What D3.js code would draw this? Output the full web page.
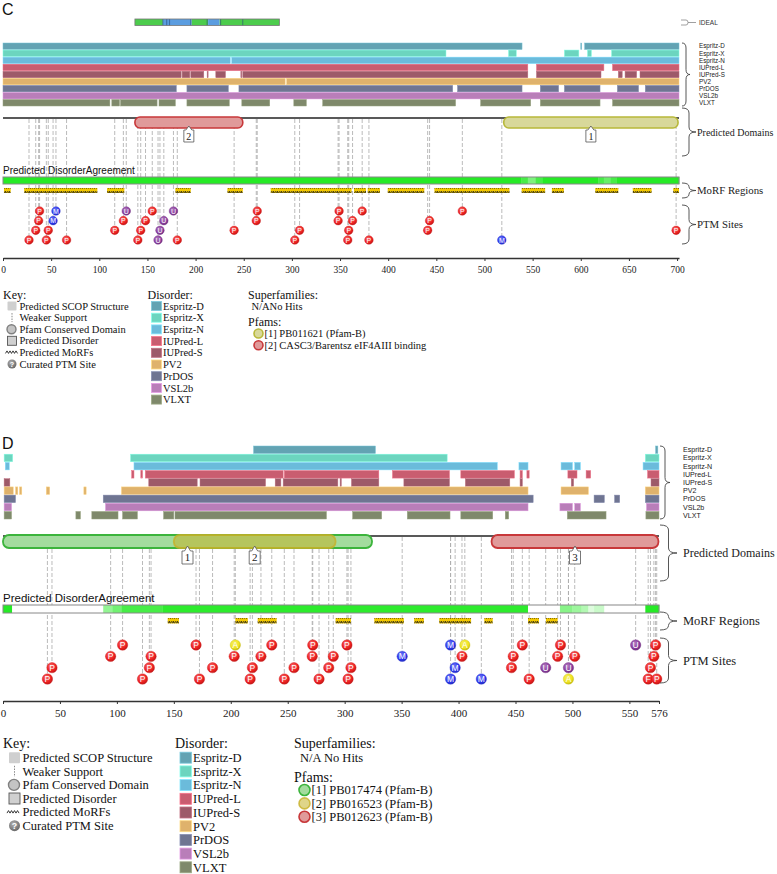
<!DOCTYPE html>
<html><head><meta charset="utf-8">
<script src="https://cdn.jsdelivr.net/npm/d3@7"></script>
<style>body{margin:0;background:#fff}svg{display:block}</style>
</head><body><svg id="chart" width="777" height="874"></svg>
<script>
// ---------------- DATA ----------------
const methods = ["Espritz-D","Espritz-X","Espritz-N","IUPred-L","IUPred-S","PV2","PrDOS","VSL2b","VLXT"];
const methodColors = ["#63a3b3","#6cd5bf","#6bbbdb","#c95d70","#9d5a69","#dfb26c","#6f7592","#b97eb9","#7f896b"];

// Panel C (length 702)
const cLength = 702;
const cTicks = [0,50,100,150,200,250,300,350,400,450,500,550,600,650,700];
const cDisorder = [
  [[0,539],[600,601],[604,702]],
  [[0,460],[525,533],[583,598],[607,611],[632,702]],
  [[0,236],[237.5,702]],
  [[0,545],[554,624],[633,702]],
  [[0,185],[186,194],[195,208.5],[212,213],[221,231],[247,248],[249,545],[554,621],[639,643],[646,658],[661.5,702]],
  [[0,293],[294.5,702]],
  [[0,180],[191,234],[245,467],[472,539],[558,577],[583,620],[638,660],[667,702]],
  [[0,702]],
  [[0,111],[113,121],[122,160],[162,179],[191,235],[248,277],[302,315],[332,470],[496,548],[558,620],[633,702]]
];
const cIdeal = [[137,166,"ord"],[166,196,"bind"],[196,213,"ord"],[213,225,"bind"],[225,287,"ord"]];
const cIdealMarks = [166,170,173,195,212,226,249];
const cDomains = [[137,249,2,"red"],[520,701,1,"olive"]];
const cAgreement = [[0,538,1],[538,545,0.85],[545,553,0.6],[553,560,0.85],[560,618,1],[618,624,0.85],[624,631,0.7],[631,637,0.85],[637,702,1]];
const cMorfs = [[1,8],[22,98],[108,126],[179,195],[233,249],[278,362],[364.5,377],[378.7,391.5],[399.5,437.5],[448,526],[538.6,563],[570,582.5],[615,639],[654,673.6],[696,702]];
const cPtms = [
  [38,0,"P"],[55,0,"M"],[128,0,"U"],[155,0,"P"],[177,0,"U"],[264,0,"P"],[349,0,"P"],[373,0,"P"],[477,0,"P"],
  [37,1,"P"],[52,1,"M"],[125,1,"P"],[148,1,"P"],[167,1,"U"],[263,1,"P"],[348,1,"P"],[363,1,"P"],[443,1,"P"],
  [34,2,"P"],[47,2,"P"],[116,2,"P"],[143,2,"P"],[163,2,"U"],[240,2,"P"],[308,2,"P"],[359,2,"P"],[441,2,"P"],[699,2,"P"],
  [27,3,"P"],[45,3,"P"],[66,3,"P"],[140,3,"P"],[161,3,"U"],[181,3,"P"],[303,3,"P"],[358,3,"P"],[380,3,"P"],[518,3,"M"]
];
const cPfams = [["olive","[1] PB011621 (Pfam-B)"],["red","[2] CASC3/Barentsz eIF4AIII binding"]];
const cSuperfam = "N/ANo Hits";

// Panel D (length 576)
const dLength = 576;
const dTicks = [0,50,100,150,200,250,300,350,400,450,500,550,576];
const dDisorder = [
  [[220,327],[573,575]],
  [[1,8.5],[112,390],[564,576]],
  [[2,5.5],[115,434],[453,461],[490,500],[502,507],[562,576]],
  [[113,115],[121,122.5],[125,246],[247,330],[342,392],[402,449],[454,456],[460,462],[496,504],[512,516],[566,576]],
  [[1,6],[128,170.5],[173,230.5],[239,244],[246,294],[296,297],[306,330],[352,392],[406,445],[454,456],[499,501],[569,576]],
  [[1,9],[11,13],[14.5,16.5],[38,41],[71,73],[104,461],[490,514],[564,576]],
  [[1,11],[88,465.5],[519,528],[537,541.5],[564,576]],
  [[1,7.5],[90,461],[489,500],[502,507],[565,576]],
  [[1,7.5],[64,68],[78,101],[105,118],[141,150],[151,284],[307,332.5],[355,392.5],[402,430],[441,444],[495.5,529.5],[564.5,576]]
];
const dDomains = [[0,324,1,"green"],[150,292,2,"yellow"],[429,575.5,3,"red"]];
const dAgreement = [[0,8,1],[8,88,0],[88,96,0.5],[96,104,0.65],[104,140,0.85],[140,461,0.97],[461,489,0],[489,500,0.55],[500,508,0.45],[508,514,0.35],[514,519,0.15],[519,528,0.25],[528,564,0],[564,576,1]];
const dMorfs = [[144.6,154.5],[204,215],[223.6,240.3],[292,305.5],[326,352],[361,369.6],[383,411],[422.6,430],[461,470.6],[476.7,487]];
const dPtms = [
  [105,0,"P"],[169.5,0,"P"],[204,0,"A"],[236,0,"P"],[272,0,"P"],[302,0,"P"],[393,0,"M"],[405.5,0,"A"],[456,0,"P"],[489.5,0,"P"],[555.5,0,"U"],[573,0,"P"],
  [94.5,1,"P"],[130,1,"P"],[203,1,"P"],[226.5,1,"P"],[271.5,1,"P"],[290,1,"P"],[350.5,1,"M"],[403,1,"P"],[448,1,"P"],[487,1,"P"],[502,1,"P"],[571.5,1,"P"],
  [43,2,"P"],[128.5,2,"P"],[184,2,"P"],[219,2,"P"],[255.5,2,"P"],[286,2,"P"],[305.5,2,"P"],[397,2,"M"],[446.5,2,"P"],[476.5,2,"U"],[496.5,2,"U"],[568.5,2,"P"],
  [39,3,"P"],[122.5,3,"P"],[172.5,3,"P"],[217,3,"P"],[247,3,"P"],[277.5,3,"P"],[303,3,"P"],[393,3,"M"],[420,3,"M"],[462,3,"P"],[496.5,3,"A"],[566.5,3,"F"],[574,3,"P"]
];
const dPfams = [["green","[1] PB017474 (Pfam-B)"],["yellow","[2] PB016523 (Pfam-B)"],["red","[3] PB012623 (Pfam-B)"]];
const dSuperfam = "N/A No Hits";

const keyItems = ["Predicted SCOP Structure","Weaker Support","Pfam Conserved Domain","Predicted Disorder","Predicted MoRFs","Curated PTM Site"];

// ---------------- STYLE ----------------
const ptmColor = {P:"#ee1f1f", M:"#2b36ee", U:"#8a3c9e", A:"#f0e41c", F:"#ee1f1f"};
const domFill = {red:"#e09a9a", olive:"#d8d89a", green:"#a3dc9e", yellow:"rgba(196,178,40,0.55)"};
const domStroke = {red:"#c8383a", olive:"#b8b83a", green:"#3cb43c", yellow:"rgba(200,176,40,0.8)"};
const serif = "'Liberation Serif', 'Times New Roman', serif";
const sans = "'Liberation Sans', Arial, sans-serif";

const svg = d3.select("#chart");
svg.append("rect").attr("width",777).attr("height",874).attr("fill","#fff");
const defs = svg.append("defs");

const pat = defs.append("pattern").attr("id","morf").attr("patternUnits","userSpaceOnUse")
  .attr("width",4).attr("height",5);
pat.append("rect").attr("width",4).attr("height",5).attr("fill","#f3c800");
pat.append("path").attr("d","M0.3,3.6 L1.3,1.2 L2.1,3.2 M2.5,3.6 L3.5,1.2").attr("fill","none").attr("stroke","#1a1a1a").attr("stroke-width",0.85);

Object.entries(ptmColor).forEach(([k,c])=>{
  const g = defs.append("radialGradient").attr("id","ptm"+k).attr("cx","40%").attr("cy","35%").attr("r","65%");
  g.append("stop").attr("offset","0%").attr("stop-color", d3.interpolateRgb(c,"#fff")(0.35));
  g.append("stop").attr("offset","70%").attr("stop-color", c);
  g.append("stop").attr("offset","100%").attr("stop-color", d3.color(c).darker(0.6));
});
const gk = defs.append("radialGradient").attr("id","ptmKey").attr("cx","40%").attr("cy","35%").attr("r","65%");
gk.append("stop").attr("offset","0%").attr("stop-color","#b0b0b0");
gk.append("stop").attr("offset","100%").attr("stop-color","#6a6a6a");

function brace(g, x0, y1, y2, w){
  const ym = (y1+y2)/2, xm = x0 + w*0.5, r = Math.min(5,(y2-y1)/4);
  g.append("path").attr("d",
    `M${x0},${y1} Q${xm},${y1} ${xm},${y1+r} L${xm},${ym-r} Q${xm},${ym} ${x0+w},${ym} Q${xm},${ym} ${xm},${ym+r} L${xm},${y2-r} Q${xm},${y2} ${x0},${y2}`)
    .attr("fill","none").attr("stroke","#444").attr("stroke-width",0.9);
}

function drawPanel(o){
  const g = svg.append("g");
  const x = d3.scaleLinear().domain([0,o.length]).range(o.xr);
  const yRow = d3.scaleBand().domain(methods).range(o.rowsY).paddingInner(0.08);
  const yPtm = d3.scalePoint().domain([0,1,2,3]).range(o.ptmY);
  const agreeColor = d3.interpolateRgb("#ffffff","#26ea26");

  g.append("text").attr("x",2).attr("y",o.letterY).text(o.letter)
    .attr("font-family",sans).attr("font-size",o.letterSize).attr("fill","#111");

  g.selectAll("line.ptml").data(o.ptms).join("line")
    .attr("x1",d=>x(d[0])).attr("x2",d=>x(d[0]))
    .attr("y1",o.domLineY+1).attr("y2",d=>yPtm(d[1]))
    .attr("stroke","#aaa").attr("stroke-width",0.8).attr("stroke-dasharray","4,2");

  methods.forEach((m,i)=>{
    g.selectAll(null).data(o.disorder[i]).join("rect")
      .attr("x",d=>x(d[0])).attr("width",d=>Math.max(0.8,x(d[1])-x(d[0])))
      .attr("y",yRow(m)).attr("height",yRow.bandwidth())
      .attr("fill",methodColors[i])
      .attr("stroke",d3.color(methodColors[i]).brighter(0.5)).attr("stroke-width",0.5);
    g.append("text").attr("x",o.labelX).attr("y",yRow(m)+yRow.bandwidth()/2)
      .attr("dy","0.35em").text(m).attr("font-family",sans).attr("font-size",o.methodFont).attr("fill","#222");
  });
  brace(g, o.braceX, o.rowsY[0], o.rowsY[1], o.braceW);

  g.append("line").attr("x1",x(0)).attr("x2",x(o.length)).attr("y1",o.domLineY).attr("y2",o.domLineY)
    .attr("stroke","#222").attr("stroke-width",1.6);
  g.selectAll("rect.dom").data(o.domains).join("rect")
    .attr("x",d=>x(d[0])).attr("width",d=>x(d[1])-x(d[0]))
    .attr("y",o.domY[0]).attr("height",o.domY[1]-o.domY[0])
    .attr("rx",o.domR).attr("ry",o.domR)
    .attr("fill",d=>domFill[d[3]]).attr("stroke",d=>domStroke[d[3]]).attr("stroke-width",o.domStroke);
  o.domains.forEach(d=>{
    const cx = x((d[0]+d[1])/2), t = o.boxY[0], b = o.boxY[1], hw = o.boxW/2, tip = o.domY[1]-2;
    g.append("path").attr("d",`M${cx-hw},${t} L${cx-3},${t} L${cx},${tip} L${cx+3},${t} L${cx+hw},${t} L${cx+hw},${b} L${cx-hw},${b} Z`)
      .attr("fill","#fff").attr("stroke","#555").attr("stroke-width",0.8);
    g.append("text").attr("x",cx).attr("y",(t+b)/2).attr("dy","0.36em").attr("text-anchor","middle")
      .text(d[2]).attr("font-family",serif).attr("font-size",o.boxFont).attr("fill","#222");
  });
  brace(g, o.braceX, o.domBrace[0], o.domBrace[1], o.braceW2);
  g.append("text").attr("x",o.rightTextX).attr("y",(o.domBrace[0]+o.domBrace[1])/2).attr("dy","0.35em")
    .text("Predicted Domains").attr("font-family",serif).attr("font-size",o.domFont).attr("fill","#222");

  g.append("text").attr("x",3).attr("y",o.agreeY[0]-3).text("Predicted DisorderAgreement")
    .attr("font-family",sans).attr("font-size",o.agreeFont).attr("fill","#111");
  g.selectAll("rect.ag").data(o.agreement).join("rect")
    .attr("x",d=>x(d[0])).attr("width",d=>x(d[1])-x(d[0])+0.3)
    .attr("y",o.agreeY[0]).attr("height",o.agreeY[1]-o.agreeY[0])
    .attr("fill",d=>agreeColor(d[2]));
  g.append("rect").attr("x",x(0)).attr("width",x(o.length)-x(0))
    .attr("y",o.agreeY[0]).attr("height",o.agreeY[1]-o.agreeY[0])
    .attr("fill","none").attr("stroke","#888").attr("stroke-width",1);

  g.selectAll("rect.morf").data(o.morfs).join("rect")
    .attr("x",d=>x(d[0])).attr("width",d=>x(d[1])-x(d[0]))
    .attr("y",o.morfY[0]).attr("height",o.morfY[1]-o.morfY[0]).attr("fill","url(#morf)");
  brace(g, o.braceX, o.morfBrace[0], o.morfBrace[1], o.braceW2);
  g.append("text").attr("x",o.rightTextX).attr("y",(o.morfBrace[0]+o.morfBrace[1])/2).attr("dy","0.35em")
    .text("MoRF Regions").attr("font-family",serif).attr("font-size",o.rightFont).attr("fill","#222");

  const pg = g.selectAll("g.ptm").data(o.ptms).join("g")
    .attr("transform",d=>`translate(${x(d[0])},${yPtm(d[1])})`);
  pg.append("circle").attr("r",o.ptmR).attr("fill",d=>`url(#ptm${d[2]})`)
    .attr("stroke",d=>d3.color(ptmColor[d[2]]).darker(0.4)).attr("stroke-width",0.4);
  pg.append("text").text(d=>d[2]).attr("text-anchor","middle").attr("dy","0.36em")
    .attr("font-family",sans).attr("font-size",o.ptmFont).attr("fill","#fff");
  brace(g, o.braceX, o.ptmBrace[0], o.ptmBrace[1], o.braceW2);
  g.append("text").attr("x",o.rightTextX).attr("y",(o.ptmBrace[0]+o.ptmBrace[1])/2).attr("dy","0.35em")
    .text("PTM Sites").attr("font-family",serif).attr("font-size",o.rightFont).attr("fill","#222");

  const ax = g.append("g").attr("transform",`translate(0,${o.axisY})`)
    .call(d3.axisBottom(x).tickValues(o.ticks).tickSize(3).tickSizeOuter(0).tickFormat(d3.format("d")));
  ax.select(".domain").attr("stroke","#333").attr("stroke-width",1.3);
  ax.selectAll(".tick line").attr("stroke","#333");
  ax.selectAll(".tick text").attr("font-family",serif).attr("font-size",o.axisFont).attr("fill","#222").attr("dy","0.9em");
  return {g,x};
}

function drawKey(o){
  const g = svg.append("g");
  const yK = d3.scalePoint().domain(d3.range(keyItems.length)).range([o.itemY, o.itemY+o.pitch*(keyItems.length-1)]);
  g.append("text").attr("x",3).attr("y",o.headY).attr("dy","0.35em").text("Key:")
    .attr("font-family",serif).attr("font-size",o.headFont).attr("fill","#111");
  const s = o.icon, ix = o.iconX;
  keyItems.forEach((t,i)=>{
    const cy = yK(i);
    if(i===0) g.append("rect").attr("x",ix).attr("y",cy-s/2).attr("width",s).attr("height",s).attr("rx",1).attr("fill","#cfcfcf");
    if(i===1) g.append("line").attr("x1",ix+s/2).attr("x2",ix+s/2).attr("y1",cy-s/2).attr("y2",cy+s/2).attr("stroke","#888").attr("stroke-dasharray","1.5,1.2");
    if(i===2) g.append("circle").attr("cx",ix+s/2-0.5).attr("cy",cy).attr("r",s/2).attr("fill","#c4c4c4").attr("stroke","#808080").attr("stroke-width",1.4);
    if(i===3) g.append("rect").attr("x",ix).attr("y",cy-s/2).attr("width",s).attr("height",s).attr("fill","#d0d0d0").attr("stroke","#555").attr("stroke-width",0.9);
    if(i===4) g.append("path").attr("d",`M${ix-2},${cy+1} l1.5,-2.5 l1.5,2.5 l1.5,-2.5 l1.5,2.5 l1.5,-2.5 l1.5,2.5 l1.5,-2.5 l1.5,2.5`).attr("fill","none").attr("stroke","#222").attr("stroke-width",0.9);
    if(i===5){ g.append("circle").attr("cx",ix+s/2).attr("cy",cy).attr("r",s/2).attr("fill","url(#ptmKey)");
      g.append("text").attr("x",ix+s/2).attr("y",cy).attr("dy","0.36em").attr("text-anchor","middle").text("?").attr("font-family",sans).attr("font-weight","bold").attr("font-size",s*0.8).attr("fill","#fff"); }
    g.append("text").attr("x",o.textX).attr("y",cy).attr("dy","0.35em").text(t)
      .attr("font-family",serif).attr("font-size",o.font).attr("fill","#111");
  });
  g.append("text").attr("x",o.disX).attr("y",o.headY).attr("dy","0.35em").text("Disorder:")
    .attr("font-family",serif).attr("font-size",o.headFont).attr("fill","#111");
  const yD = d3.scalePoint().domain(methods).range([o.itemY, o.itemY+o.dPitch*(methods.length-1)]);
  methods.forEach((m,i)=>{
    g.append("rect").attr("x",o.swX).attr("y",yD(m)-o.swH/2).attr("width",o.swW).attr("height",o.swH)
      .attr("fill",methodColors[i]).attr("stroke",d3.color(methodColors[i]).brighter(0.6)).attr("stroke-width",0.8);
    g.append("text").attr("x",o.swX+o.swW+1.5).attr("y",yD(m)).attr("dy","0.35em").text(m)
      .attr("font-family",serif).attr("font-size",o.font).attr("fill","#111");
  });
  g.append("text").attr("x",o.supX).attr("y",o.headY).attr("dy","0.35em").text("Superfamilies:")
    .attr("font-family",serif).attr("font-size",o.headFont).attr("fill","#111");
  g.append("text").attr("x",o.supX+o.indent).attr("y",o.itemY).attr("dy","0.35em").text(o.superfam)
    .attr("font-family",serif).attr("font-size",o.font).attr("fill","#111");
  g.append("text").attr("x",o.supX).attr("y",o.pfamHeadY).attr("dy","0.35em").text("Pfams:")
    .attr("font-family",serif).attr("font-size",o.headFont).attr("fill","#111");
  o.pfams.forEach((p,i)=>{
    const cy = o.pfamY + i*o.pfamPitch;
    g.append("circle").attr("cx",o.pfamCX).attr("cy",cy).attr("r",o.pfamR)
      .attr("fill",domFill[p[0]]).attr("stroke",domStroke[p[0]]).attr("stroke-width",1.6);
    g.append("text").attr("x",o.pfamCX+o.pfamR+1.5).attr("y",cy).attr("dy","0.35em").text(p[1])
      .attr("font-family",serif).attr("font-size",o.font).attr("fill","#111");
  });
}

// ---------------- PANEL C ----------------
const pc = drawPanel({
  letter:"C", letterY:15, letterSize:16, length:cLength, xr:[3,679], ticks:cTicks,
  disorder:cDisorder, domains:cDomains, agreement:cAgreement, morfs:cMorfs, ptms:cPtms,
  rowsY:[43,106], labelX:699, methodFont:6.3, braceX:682, braceW:8, braceW2:14,
  domLineY:118, domY:[117,128], domR:5, domStroke:1.6, boxY:[130,142], boxW:10, boxFont:10,
  domBrace:[108,156], rightTextX:697, rightFont:10.8, domFont:10,
  agreeY:[177,184], agreeFont:10, morfY:[188,193], morfBrace:[183,198],
  ptmY:[211,240], ptmR:4.3, ptmFont:7, ptmBrace:[205,244],
  axisY:258, axisFont:9.5
});
const idg = svg.append("g");
idg.selectAll("rect").data(cIdeal).join("rect")
  .attr("x",d=>pc.x(d[0])).attr("width",d=>pc.x(d[1])-pc.x(d[0]))
  .attr("y",19).attr("height",6.5)
  .attr("fill",d=>d[2]==="ord"?"#4ccc4c":"#5b9de0");
idg.selectAll("line").data(cIdealMarks).join("line")
  .attr("x1",d=>pc.x(d)).attr("x2",d=>pc.x(d)).attr("y1",19).attr("y2",25.5)
  .attr("stroke","#2a4e7a").attr("stroke-width",0.9).attr("opacity",0.7);
idg.append("rect").attr("x",pc.x(cIdeal[0][0])).attr("width",pc.x(cIdeal[cIdeal.length-1][1])-pc.x(cIdeal[0][0]))
  .attr("y",19).attr("height",6.5).attr("fill","none").attr("stroke","#777").attr("stroke-width",0.8);
idg.append("path").attr("d","M681,20 L686,20 Q688,20 688,22.5 Q688,25 686,25 L681,25 M688,22.5 L696,22.5")
  .attr("fill","none").attr("stroke","#888").attr("stroke-width",0.8);
idg.append("text").attr("x",699).attr("y",22.8).attr("dy","0.35em").text("IDEAL")
  .attr("font-family",sans).attr("font-size",6.5).attr("fill","#333");

drawKey({
  headY:295, headFont:12, itemY:306, pitch:11.6, font:10.5, icon:9, iconX:7.5, textX:19.5,
  disX:147.5, swX:151.5, swW:10, swH:9, dPitch:11.7,
  supX:248, indent:3.5, superfam:cSuperfam, pfamHeadY:322, pfams:cPfams, pfamY:333.5, pfamPitch:11.7, pfamCX:258.5, pfamR:4.5
});

// ---------------- PANEL D ----------------
drawPanel({
  letter:"D", letterY:449, letterSize:16, length:dLength, xr:[3,659], ticks:dTicks,
  disorder:dDisorder, domains:dDomains, agreement:dAgreement, morfs:dMorfs, ptms:dPtms,
  rowsY:[446,519], labelX:683, methodFont:7.1, braceX:660, braceW:10, braceW2:17,
  domLineY:536, domY:[535,548], domR:6, domStroke:1.8, boxY:[551,564], boxW:11, boxFont:11,
  domBrace:[525,581], rightTextX:683, rightFont:12.5, domFont:12,
  agreeY:[605,613], agreeFont:11.5, morfY:[618,623.5], morfBrace:[612,630],
  ptmY:[645,679], ptmR:5.2, ptmFont:8.5, ptmBrace:[638,683],
  axisY:701, axisFont:11
});
drawKey({
  headY:743, headFont:14, itemY:757.7, pitch:13.6, font:12.5, icon:11, iconX:9, textX:22.5,
  disX:175, swX:180, swW:11.5, swH:11, dPitch:13.7,
  supX:294, indent:6, superfam:dSuperfam, pfamHeadY:776.7, pfams:dPfams, pfamY:790, pfamPitch:13.4, pfamCX:304.5, pfamR:5.5
});
</script></body></html>
